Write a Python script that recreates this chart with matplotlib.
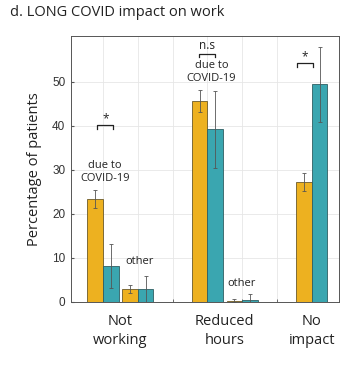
import matplotlib
matplotlib.use("Agg")
import matplotlib.pyplot as plt
import numpy as np

# Data
positions = [1, 2, 4, 5, 7]
group_labels = ["Not\nworking", "Reduced\nhours", "No\nimpact"]
group_label_pos = [1.5, 4.5, 7]
series_a = [23.4, 2.9, 45.6, 0.3, 27.3]      # yellow
series_a_err = [2.0, 0.9, 2.5, 0.3, 2.1]
series_b = [8.2, 2.9, 39.2, 0.5, 49.4]       # teal
series_b_err = [5.0, 3.1, 8.7, 1.4, 8.6]
yticks = [0, 10, 20, 30, 40, 50]

col_a = "#EDB120"
col_b = "#3AA6B0"
hum = ["Open Sans", "DejaVu Sans"]

fig = plt.figure(figsize=(3.56, 3.75), dpi=100)
ax = fig.add_axes([0.1994, 0.1947, 0.7528, 0.7093])

w = 0.45
pos = np.array(positions, dtype=float)
ax.bar(pos - w / 2, series_a, width=w, color=col_a, edgecolor="#6b5a2a", linewidth=0.6, zorder=3)
ax.bar(pos + w / 2, series_b, width=w, color=col_b, edgecolor="#2f5f63", linewidth=0.6, zorder=3)
ax.errorbar(pos - w / 2, series_a, yerr=series_a_err, fmt="none", ecolor="#555555",
            elinewidth=0.6, capsize=1.5, capthick=0.6, zorder=4)
ax.errorbar(pos + w / 2, series_b, yerr=series_b_err, fmt="none", ecolor="#555555",
            elinewidth=0.6, capsize=1.5, capthick=0.6, zorder=4)

ax.set_xlim(0.08, 7.78)
ax.set_ylim(0, 60.4)
ax.set_yticks(yticks)
ax.set_xticks(group_label_pos)
ax.set_xticklabels(group_labels, fontsize=10.5, family=hum, linespacing=1.3)
ax.set_xticks([1, 2, 3, 4, 5, 6, 7], minor=True)
for lab in ax.get_yticklabels():
    lab.set_fontsize(8.5)
    lab.set_family(["Liberation Sans", "DejaVu Sans"])
    lab.set_color("#333333")

ax.tick_params(axis="x", which="major", length=0, pad=9, colors="#222222")
ax.tick_params(axis="x", which="minor", direction="in", length=2.5, color="#555555")
ax.tick_params(axis="y", direction="in", length=2.5, color="#555555", pad=4)
ax.grid(True, axis="y", color="#e6e6e6", linewidth=0.6, zorder=0)
ax.grid(True, axis="x", which="minor", color="#e6e6e6", linewidth=0.6, zorder=0)
for s in ax.spines.values():
    s.set_color("#555555")
    s.set_linewidth(0.7)

ax.set_ylabel("Percentage of patients", fontsize=10.5, family=hum, labelpad=7, color="#222222")

# annotations
def bracket(x0, x1, y, txt, ty):
    ax.plot([x0, x0, x1, x1], [y - 0.8, y, y, y - 0.8], color="#222222", lw=0.9, zorder=5)
    ax.text((x0 + x1) / 2, ty, txt, ha="center", va="center", fontsize=8.5, family=hum, color="#222222")

bracket(0.84, 1.30, 40.1, "*", 41.6)
bracket(3.76, 4.23, 56.4, "n.s", 58.2)
bracket(6.57, 7.03, 54.2, "*", 55.7)

ax.text(1.06, 29.6, "due to\nCOVID-19", ha="center", va="center", fontsize=8, family=hum,
        linespacing=1.25, color="#222222")
ax.text(4.12, 52.2, "due to\nCOVID-19", ha="center", va="center", fontsize=8, family=hum,
        linespacing=1.25, color="#222222")
ax.text(2.06, 9.2, "other", ha="center", va="center", fontsize=8, family=hum, color="#222222")
ax.text(4.98, 4.2, "other", ha="center", va="center", fontsize=8, family=hum, color="#222222")

fig.text(0.028, 0.968, "d. LONG COVID impact on work", ha="left", va="center", fontsize=10.5,
         family=hum, color="#222222")

fig.savefig("out.png", dpi=100)
